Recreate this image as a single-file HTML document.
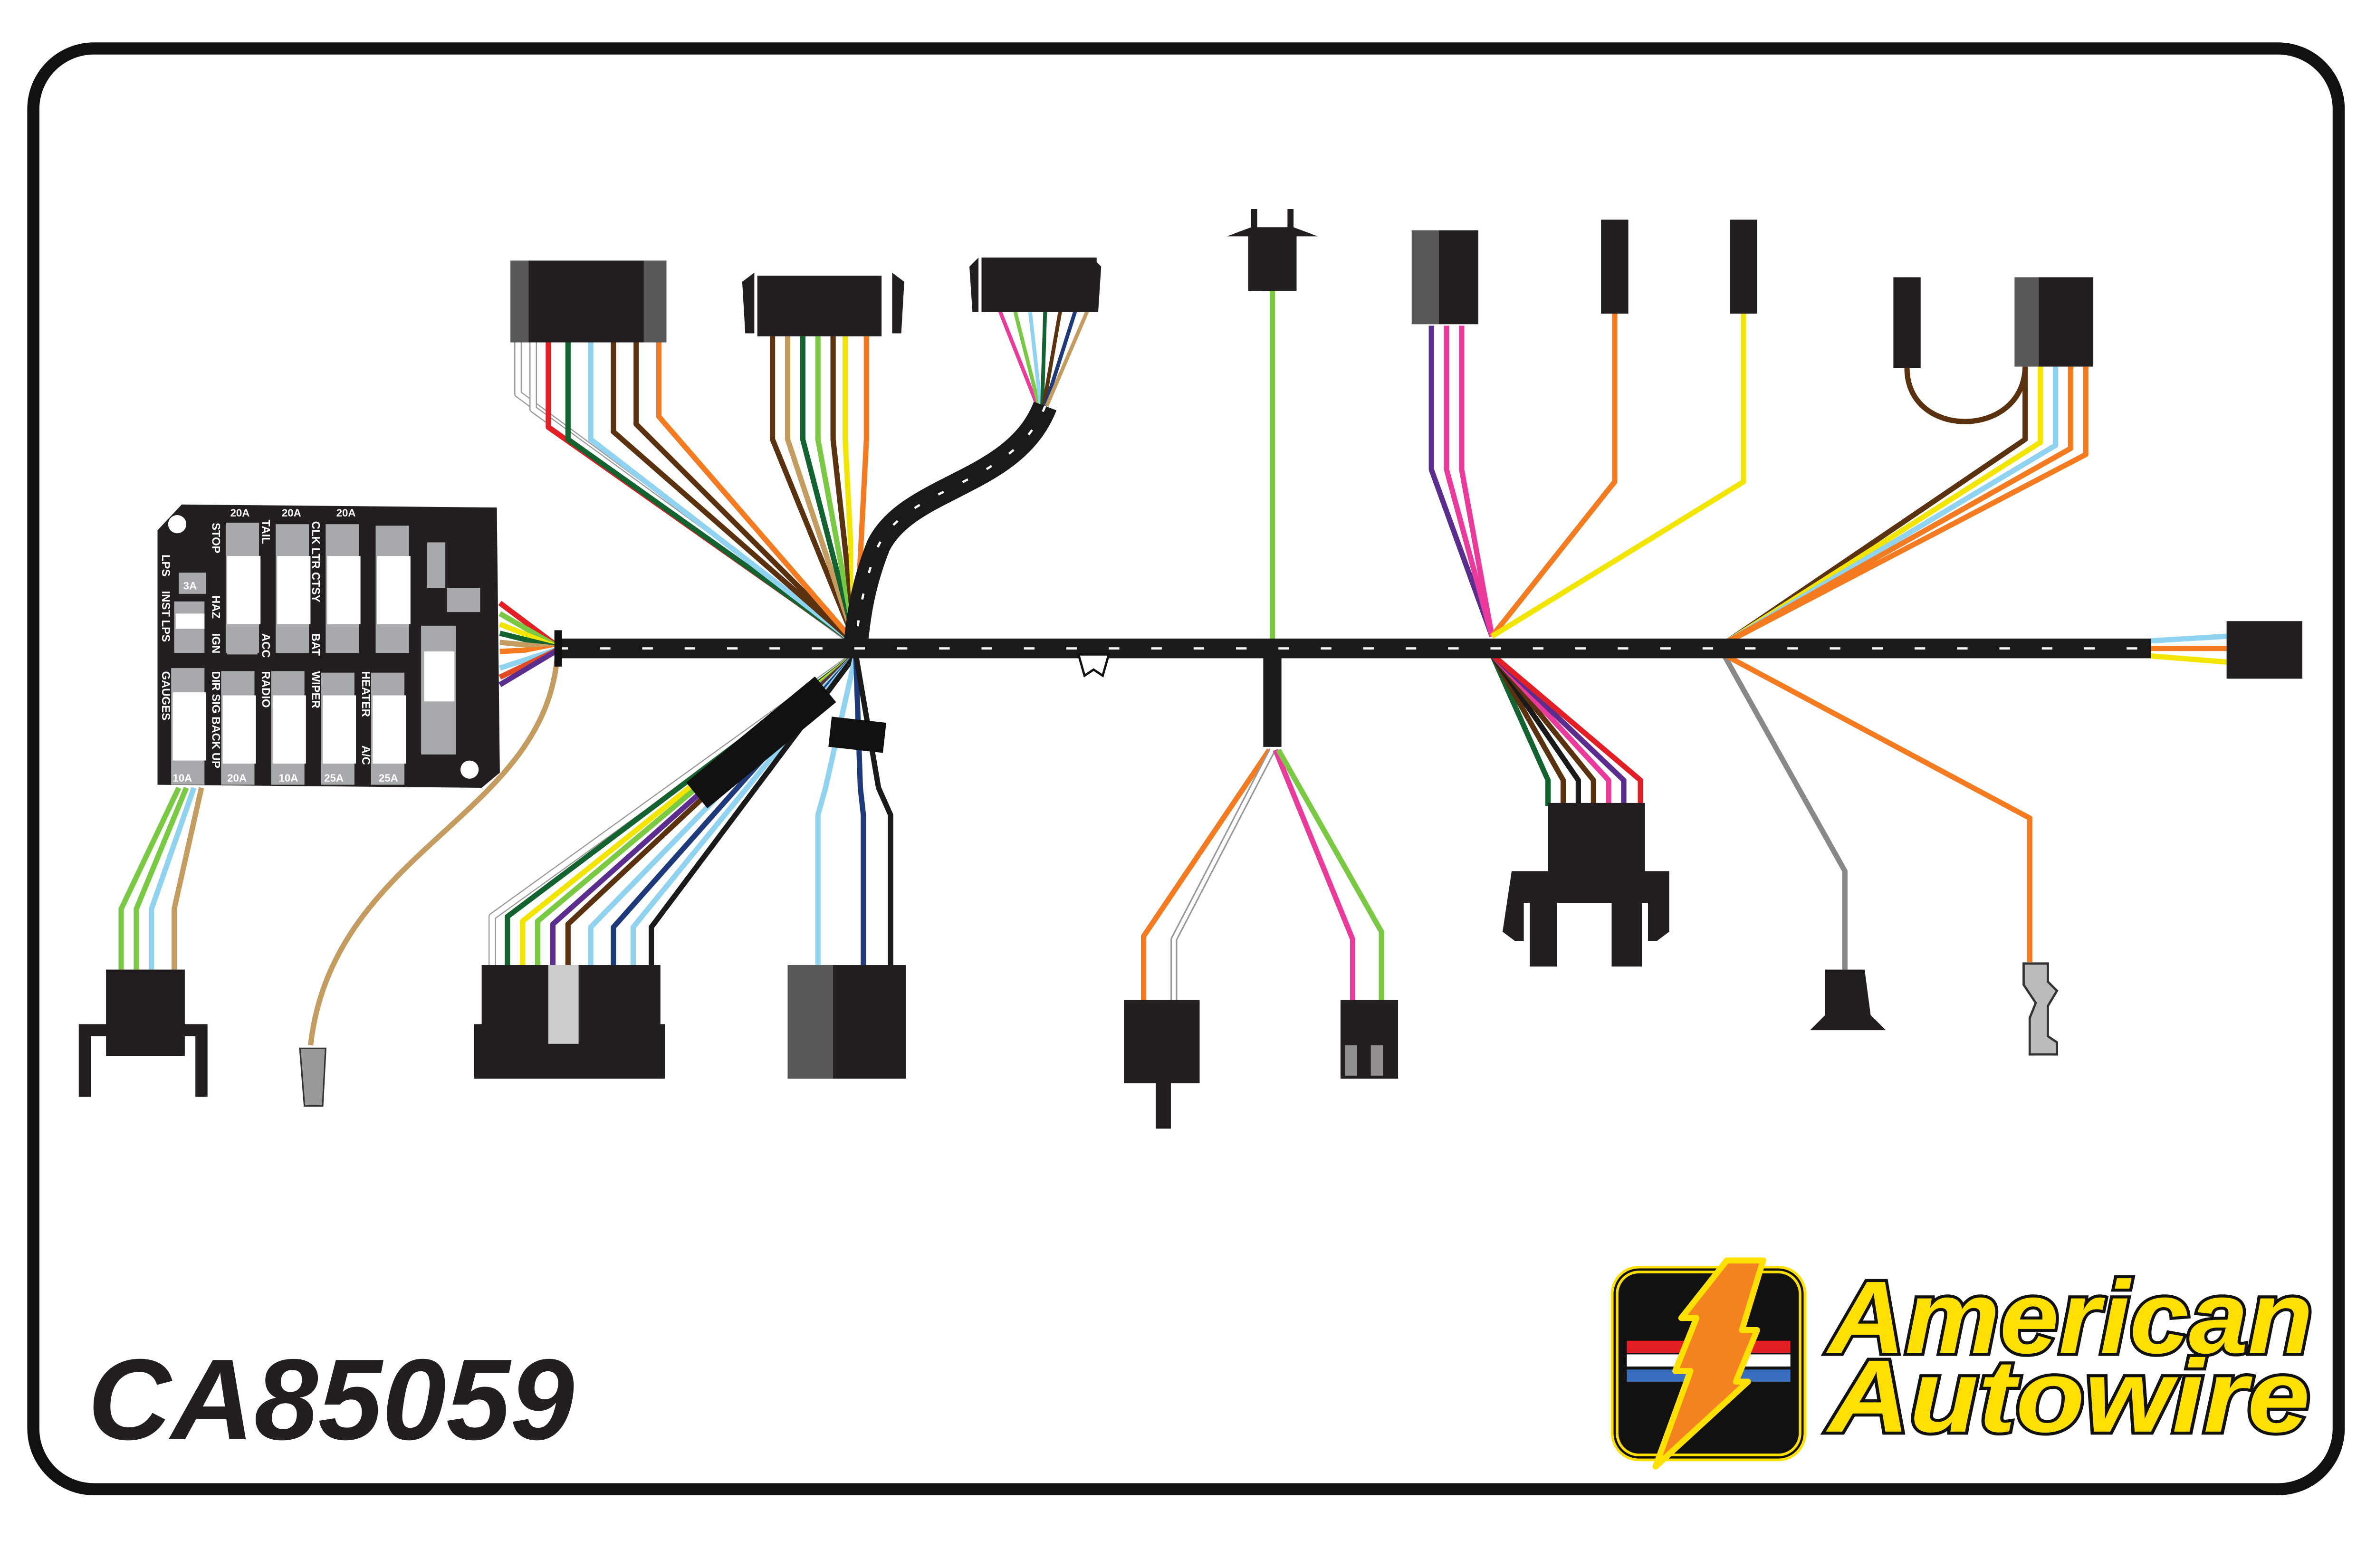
<!DOCTYPE html>
<html><head><meta charset="utf-8"><style>html,body{margin:0;padding:0;background:#fff}svg{display:block}</style></head>
<body>
<svg width="5100" height="3300" viewBox="0 0 1600 1035" preserveAspectRatio="none" xmlns="http://www.w3.org/2000/svg" font-family="Liberation Sans, sans-serif">
<rect x="22" y="32" width="1522" height="951" rx="40" fill="#fff" stroke="#111" stroke-width="8"/>
<g fill="none" stroke-linejoin="round" stroke-width="3.5">
<polyline points="342,225 342,260 565,425" stroke="#999" stroke-width="5"/><polyline points="342,225 342,260 565,425" stroke="#fff"/>
<polyline points="352,225 352,270 565,425" stroke="#999" stroke-width="5"/><polyline points="352,225 352,270 565,425" stroke="#fff"/>
<polyline points="362,225 362,282 565,425" stroke="#e31e24"/>
<polyline points="375,225 375,290 565,425" stroke="#12632f"/>
<polyline points="390,225 390,290 565,425" stroke="#8fd3f0"/>
<polyline points="405,225 405,285 565,425" stroke="#5a3210"/>
<polyline points="420,225 420,280 565,425" stroke="#5a3210"/>
<polyline points="435,225 435,275 565,425" stroke="#f47b20"/>
<polyline points="510,222 510,290 565,425" stroke="#5a3210"/>
<polyline points="520,222 520,290 565,425" stroke="#c59c5f"/>
<polyline points="530,222 530,290 565,425" stroke="#12632f"/>
<polyline points="540,222 540,290 565,425" stroke="#7ac943"/>
<polyline points="550,222 550,290 565,425" stroke="#5a3210"/>
<polyline points="558,222 558,290 565,425" stroke="#f2e600"/>
<polyline points="565,222 565,290 565,425" stroke="#fff"/>
<polyline points="572,222 572,290 565,425" stroke="#f47b20"/>
<g stroke-width="2.5">
<polyline points="660,205 685,268" stroke="#ec3a9c"/><polyline points="670,205 686,268" stroke="#7ac943"/>
<polyline points="680,205 687,268" stroke="#8fd3f0"/><polyline points="690,205 688,268" stroke="#12632f"/>
<polyline points="700,205 689,268" stroke="#5a3210"/><polyline points="710,205 690,268" stroke="#1f3a7a"/>
<polyline points="718,205 691,268" stroke="#c59c5f"/></g>
<path d="M690,268 C670,320 600,320 580,360 C570,385 567,405 565,425" stroke="#1a1a1a" stroke-width="16"/>
<path d="M690,268 C670,320 600,320 580,360 C570,385 567,405 565,425" stroke="#fff" stroke-width="1.5" stroke-dasharray="4 14"/>
<polyline points="840,192 840,425" stroke="#7ac943"/>
<polyline points="945,215 945,310 985,420" stroke="#5b2d8e"/>
<polyline points="955,215 955,310 985,420" stroke="#ec3a9c"/>
<polyline points="965,215 965,310 985,420" stroke="#ec3a9c"/>
<polyline points="1066,205 1066,318 985,420" stroke="#f47b20"/>
<polyline points="1151,205 1151,318 985,420" stroke="#f2e600"/>
<path d="M1259,243 C1259,290 1335,290 1337,243" stroke="#5a3210"/>
<polyline points="1337,242 1337,290 1138,425" stroke="#5a3210"/>
<polyline points="1347,242 1347,292 1138,425" stroke="#f2e600"/>
<polyline points="1357,242 1357,294 1138,425" stroke="#8fd3f0"/>
<polyline points="1367,242 1367,296 1138,425" stroke="#f47b20"/>
<polyline points="1377,242 1377,300 1138,425" stroke="#f47b20"/>
<polyline points="1420,423 1470,420" stroke="#8fd3f0"/>
<polyline points="1420,428 1470,428" stroke="#f47b20"/>
<polyline points="1420,433 1470,437" stroke="#f2e600"/>
<polyline points="330,398 370,428" stroke="#e31e24"/><polyline points="330,405 370,428" stroke="#7ac943"/>
<polyline points="330,412 370,428" stroke="#f2e600"/><polyline points="330,418 370,428" stroke="#12632f"/>
<polyline points="330,424 370,428" stroke="#c59c5f"/><polyline points="330,430 370,428" stroke="#f47b20"/>
<polyline points="330,436 370,428" stroke="#fff"/><polyline points="330,441 370,428" stroke="#8fd3f0"/>
<polyline points="330,447 370,428" stroke="#e34a24"/><polyline points="330,452 370,428" stroke="#5b2d8e"/>
<path d="M368,432 C360,540 220,560 205,690" stroke="#c59c5f"/>
<polyline points="118,520 80,600 80,640" stroke="#7ac943"/>
<polyline points="123,520 90,600 90,640" stroke="#7ac943"/>
<polyline points="128,520 100,600 100,640" stroke="#8fd3f0"/>
<polyline points="133,520 115,600 115,640" stroke="#c59c5f"/>
<polyline points="565,432 325,605 325,640" stroke="#999" stroke-width="5"/><polyline points="565,432 325,605 325,640" stroke="#fff"/>
<polyline points="565,432 335,605 335,640" stroke="#12632f"/>
<polyline points="565,432 345,608 345,640" stroke="#f2e600"/>
<polyline points="565,432 355,608 355,640" stroke="#7ac943"/>
<polyline points="565,432 365,610 365,640" stroke="#5b2d8e"/>
<polyline points="565,432 375,610 375,640" stroke="#5a3210"/>
<polyline points="565,432 390,612 390,640" stroke="#8fd3f0"/>
<polyline points="565,432 405,612 405,640" stroke="#1f3a7a"/>
<polyline points="565,432 418,612 418,640" stroke="#8fd3f0"/>
<polyline points="565,432 430,612 430,640" stroke="#1a1a1a"/>
<line x1="545" y1="455" x2="460" y2="525" stroke="#111" stroke-width="22"/>
<polyline points="565,432 545,520 540,538 540,637" stroke="#8fd3f0"/>
<polyline points="565,432 568,520 570,538 570,637" stroke="#1f3a7a"/>
<polyline points="565,432 580,520 588,538 588,637" stroke="#1a1a1a"/>
<line x1="548" y1="483" x2="584" y2="487" stroke="#111" stroke-width="20"/>
<line x1="840" y1="428" x2="840" y2="493" stroke="#1a1a1a" stroke-width="12"/>
<polyline points="838,495 755,618 755,660" stroke="#f47b20"/>
<polyline points="840,495 775,620 775,660" stroke="#999" stroke-width="4.5"/><polyline points="840,495 775,620 775,660" stroke="#fff" stroke-width="2.5"/>
<polyline points="842,495 893,620 893,660" stroke="#ec3a9c"/>
<polyline points="844,495 912,615 912,660" stroke="#7ac943"/>
<polyline points="985,432 1022,515 1022,532" stroke="#12632f"/>
<polyline points="985,432 1032,515 1032,532" stroke="#5a3210"/>
<polyline points="985,432 1042,515 1042,532" stroke="#1a1a1a"/>
<polyline points="985,432 1052,515 1052,532" stroke="#5a3210"/>
<polyline points="985,432 1062,515 1062,532" stroke="#ec3a9c"/>
<polyline points="985,432 1072,515 1072,532" stroke="#5b2d8e"/>
<polyline points="985,432 1083,515 1083,532" stroke="#e31e24"/>
<polyline points="1138,432 1218,575 1218,640" stroke="#888"/>
<polyline points="1138,432 1340,540 1340,635" stroke="#f47b20"/>
</g>
<line x1="368" y1="428" x2="1420" y2="428" stroke="#1a1a1a" stroke-width="13"/>
<line x1="368" y1="428" x2="1420" y2="428" stroke="#fff" stroke-width="1.5" stroke-dasharray="7 21"/>
<rect x="366" y="416" width="5" height="24" fill="#111"/>
<path d="M712,432 l4,14 l6,-4 l6,4 l4,-14 z" fill="#fff" stroke="#111" stroke-width="1.5"/>
<path d="M120,333 L328,335 L330,510 L318,520 L104,518 L104,350 Z" fill="#231f20"/>
<circle cx="117" cy="346" r="6" fill="#fff"/><circle cx="310" cy="508" r="6" fill="#fff"/>
<g fill="#a7a9ac">
<rect x="149" y="345" width="22" height="86"/><rect x="182" y="346" width="22" height="85"/><rect x="215" y="346" width="22" height="85"/><rect x="248" y="347" width="22" height="84"/>
<rect x="113" y="441" width="22" height="77"/><rect x="146" y="443" width="22" height="75"/><rect x="179" y="443" width="22" height="75"/><rect x="212" y="444" width="22" height="74"/><rect x="245" y="444" width="22" height="74"/>
<rect x="118" y="378" width="18" height="14"/><rect x="115" y="397" width="20" height="34"/>
<rect x="150" y="418" width="20" height="14"/><rect x="183" y="418" width="20" height="13"/><rect x="216" y="418" width="20" height="12"/><rect x="249" y="418" width="20" height="12"/>
<rect x="282" y="358" width="12" height="30"/><rect x="295" y="388" width="22" height="16"/>
<rect x="278" y="413" width="23" height="85"/>
</g>
<g fill="#fff">
<rect x="150" y="367" width="22" height="45"/><rect x="183" y="367" width="22" height="45"/><rect x="216" y="367" width="22" height="45"/><rect x="249" y="367" width="22" height="45"/>
<rect x="114" y="457" width="22" height="45"/><rect x="147" y="459" width="22" height="45"/><rect x="180" y="459" width="22" height="45"/><rect x="213" y="459" width="22" height="45"/><rect x="246" y="459" width="22" height="45"/>
<rect x="116" y="405" width="19" height="10"/><rect x="280" y="430" width="20" height="33"/>
</g>
<g fill="#fff" font-weight="bold" font-size="7">
<text x="152" y="341">20A</text><text x="186" y="341">20A</text><text x="222" y="341">20A</text>
<text x="121" y="389">3A</text>
<text x="114" y="516">10A</text><text x="150" y="516">20A</text><text x="184" y="516">10A</text><text x="214" y="516">25A</text><text x="250" y="516">25A</text>
<g font-size="7.5">
<text transform="translate(140,345) rotate(90)">STOP</text>
<text transform="translate(173,343) rotate(90)">TAIL</text>
<text transform="translate(206,344) rotate(90)">CLK LTR CTSY</text>
<text transform="translate(107,366) rotate(90)">LPS</text>
<text transform="translate(107,390) rotate(90)">INST LPS</text>
<text transform="translate(140,393) rotate(90)">HAZ</text>
<text transform="translate(140,418) rotate(90)">IGN</text>
<text transform="translate(173,418) rotate(90)">ACC</text>
<text transform="translate(206,418) rotate(90)">BAT</text>
<text transform="translate(107,443) rotate(90)">GAUGES</text>
<text transform="translate(140,443) rotate(90)">DIR SIG BACK UP</text>
<text transform="translate(173,443) rotate(90)">RADIO</text>
<text transform="translate(206,443) rotate(90)">WIPER</text>
<text transform="translate(239,443) rotate(90)">HEATER</text>
<text transform="translate(239,492) rotate(90)">A/C</text>
</g></g>
<g fill="#231f20">
<rect x="337" y="172" width="103" height="54"/>
<rect x="500" y="182" width="82" height="40"/>
<path d="M490,186 l8,-6 l0,40 l-6,0 z"/><path d="M597,186 l-8,-6 l0,40 l6,0 z"/>
<rect x="648" y="170" width="76" height="36"/>
<path d="M640,176 l6,-6 l0,36 l-4,0 z"/><path d="M727,176 l-6,-6 l0,36 l4,0 z"/>
<path d="M826,138 l4,0 l0,12 l20,0 l0,-12 l4,0 l0,12 l16,6 l-14,0 l0,36 l-32,0 l0,-36 l-14,0 l16,-6 z"/>
<rect x="932" y="152" width="44" height="62"/>
<rect x="1057" y="145" width="18" height="62"/>
<rect x="1142" y="145" width="18" height="62"/>
<rect x="1250" y="183" width="18" height="60"/>
<rect x="1330" y="183" width="52" height="59"/>
<rect x="1470" y="410" width="50" height="38"/>
<rect x="70" y="640" width="52" height="57"/>
<path d="M52,676 l20,0 l0,8 l-12,0 l0,40 l-8,0 z"/><path d="M137,676 l-20,0 l0,8 l12,0 l0,40 l8,0 z"/>
<rect x="318" y="637" width="118" height="42"/>
<rect x="313" y="676" width="126" height="36"/>
<rect x="520" y="637" width="78" height="75"/>
<rect x="742" y="660" width="50" height="55"/><rect x="763" y="705" width="10" height="40"/>
<rect x="885" y="660" width="38" height="52"/>
<rect x="1022" y="530" width="64" height="48"/>
<path d="M998,575 l104,0 l0,40 l-8,6 l-6,0 l0,-25 l-4,0 l0,42 l-20,0 l0,-42 l-36,0 l0,42 l-18,0 l0,-42 l-4,0 l0,25 l-6,0 l-8,-6 z"/>
<path d="M1205,640 l26,0 l4,30 l10,10 l-50,0 l10,-10 z"/>
</g>
<g fill="#fff" opacity="0.25">
<rect x="337" y="172" width="12" height="54"/><rect x="425" y="172" width="15" height="54"/>
<rect x="932" y="152" width="18" height="62"/><rect x="1330" y="183" width="16" height="59"/>
<rect x="520" y="637" width="30" height="75"/>
</g>
<rect x="362" y="637" width="20" height="52" fill="#ccc"/>
<rect x="888" y="690" width="8" height="20" fill="#fff" opacity="0.5"/><rect x="905" y="690" width="8" height="20" fill="#fff" opacity="0.5"/>
<path d="M198,692 l17,0 l-2,38 l-12,0 z" fill="#999" stroke="#333" stroke-width="1"/>
<path d="M1336,636 l16,0 l0,12 l6,6 l-6,10 l0,20 l6,4 l0,8 l-18,0 l0,-24 l4,-10 l-8,-12 z" fill="#bbb" stroke="#333" stroke-width="1.5"/>
<text x="58" y="950" font-size="76" font-weight="bold" font-style="italic" fill="#231f20">CA85059</text>
<rect x="1066" y="838" width="124" height="124" rx="16" fill="#111" stroke="#ffe000" stroke-width="5"/>
<rect x="1066" y="838" width="124" height="124" rx="16" fill="none" stroke="#111" stroke-width="1.5"/>
<rect x="1074" y="885" width="108" height="8" fill="#e31e24"/>
<rect x="1074" y="894" width="108" height="8" fill="#fff"/>
<rect x="1074" y="904" width="108" height="8" fill="#3a6fc0"/>
<path d="M1140,832 L1164,832 L1150,878 L1160,878 L1146,912 L1154,912 L1093,968 L1116,905 L1106,905 L1120,870 L1110,870 Z" fill="#f58220" stroke="#ffe000" stroke-width="4" stroke-linejoin="round"/>
<g font-size="68" font-weight="bold" font-style="italic" fill="#ffe000" stroke="#111" stroke-width="4" paint-order="stroke">
<text x="1207" y="893" textLength="320" lengthAdjust="spacingAndGlyphs">American</text>
<text x="1207" y="945" textLength="318" lengthAdjust="spacingAndGlyphs">Autowire</text>
</g>
</svg>
</body></html>
